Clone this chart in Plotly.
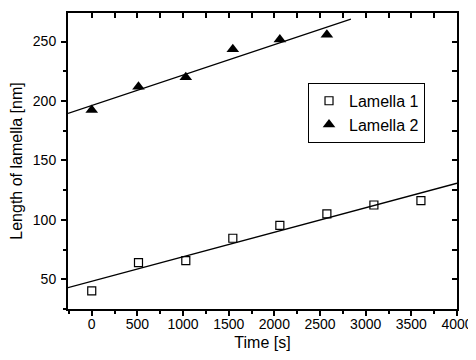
import plotly.graph_objects as go

# Data
time_s = [0, 512, 1030, 1545, 2060, 2575, 3090, 3605]
lamella1 = [40.2, 64.0, 65.7, 84.5, 95.4, 105.0, 112.5, 116.2]
time2_s = [0, 512, 1030, 1545, 2060, 2575]
lamella2 = [192.4, 212.0, 220.0, 243.5, 251.8, 255.7]

fit1_x = [-260, 4000]
fit1_y = [43.0, 130.8]
fit2_x = [-260, 2838]
fit2_y = [189.6, 268.8]

x_range = [-260, 4000]
y_range = [25, 274]
x_major = [0, 500, 1000, 1500, 2000, 2500, 3000, 3500, 4000]
x_minor = [-250, 250, 750, 1250, 1750, 2250, 2750, 3250, 3750]
y_major = [50, 100, 150, 200, 250]
y_minor = [25, 75, 125, 175, 225]

font = "Liberation Sans, Arial, sans-serif"

fig = go.Figure()
fig.add_trace(go.Scatter(x=fit1_x, y=fit1_y, mode="lines",
                         line=dict(color="black", width=1.3), showlegend=False))
fig.add_trace(go.Scatter(x=fit2_x, y=fit2_y, mode="lines",
                         line=dict(color="black", width=1.3), showlegend=False))
fig.add_trace(go.Scatter(x=time_s, y=lamella1, mode="markers", name="Lamella 1",
                         marker=dict(symbol="square-open", size=8,
                                     color="black", line=dict(width=1.2))))
fig.add_trace(go.Scatter(x=time2_s, y=lamella2, mode="markers", name="Lamella 2",
                         marker=dict(symbol="triangle-up", size=11, color="black")))

axis_common = dict(showgrid=False, zeroline=False, showline=True,
                   linecolor="black", linewidth=2, automargin=False)
tick_common = dict(tickwidth=1.5, tickcolor="black")

fig.update_layout(
    width=468, height=352,
    margin=dict(l=60, r=19, t=5, b=51),
    paper_bgcolor="white", plot_bgcolor="white",
    font=dict(family=font, size=14, color="black"),
    xaxis=dict(range=x_range, tickmode="array", tickvals=x_major,
               ticks="outside", ticklen=5, **tick_common,
               minor=dict(tickmode="array", tickvals=x_minor,
                          ticks="outside", ticklen=3, **tick_common),
               title=dict(text="Time [s]", font=dict(size=16), standoff=6),
               tickfont=dict(size=14), ticklabelstandoff=-4,
               ticklabeloverflow="allow", **axis_common),
    yaxis=dict(range=y_range, tickmode="array", tickvals=y_major,
               ticks="outside", ticklen=5, **tick_common,
               minor=dict(tickmode="array", tickvals=y_minor,
                          ticks="outside", ticklen=3, **tick_common),
               title=dict(text="Length of lamella [nm]", font=dict(size=16), standoff=12),
               tickfont=dict(size=14), ticklabelstandoff=2, **axis_common),
    xaxis2=dict(range=x_range, overlaying="x", side="top", anchor="y",
                tickmode="array", tickvals=sorted(x_major + x_minor),
                ticks="inside", ticklen=5, **tick_common,
                showticklabels=False, **axis_common),
    yaxis2=dict(range=y_range, overlaying="y", side="right", anchor="x",
                tickmode="array", tickvals=sorted(y_major + y_minor),
                ticks="inside", ticklen=5, **tick_common,
                showticklabels=False, **axis_common),
    legend=dict(x=0.617, y=0.764, xanchor="left", yanchor="top",
                bordercolor="black", borderwidth=1, bgcolor="white",
                font=dict(size=16), tracegroupgap=0, itemwidth=30),
)
# dummy trace to activate the mirrored axes
fig.add_trace(go.Scatter(x=[None], y=[None], xaxis="x2", yaxis="y2",
                         showlegend=False, hoverinfo="skip"))

fig.write_html("out.html")
